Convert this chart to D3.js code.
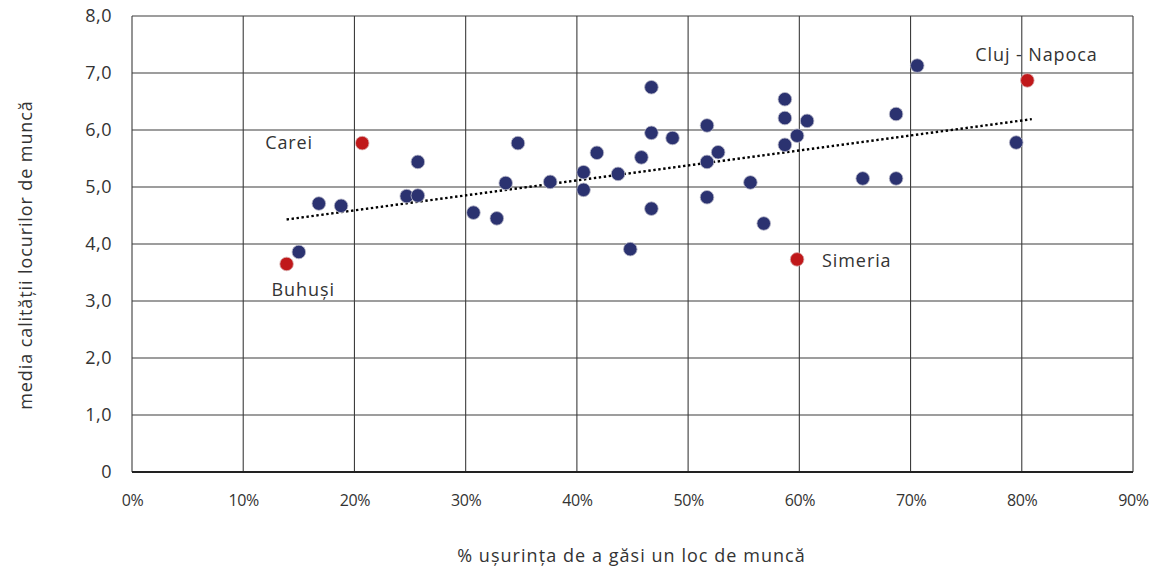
<!DOCTYPE html>
<html>
<head>
<meta charset="utf-8">
<script src="https://cdn.jsdelivr.net/npm/d3@7"></script>
<style>
  html, body { margin: 0; padding: 0; background: #fff; }
  svg { display: block; font-family: "Open Sans", sans-serif; }
</style>
</head>
<body>
<svg id="chart" width="1154" height="569"></svg>
<script>
// ---- data (x = % ușurința de a găsi un loc de muncă, y = media calității locurilor de muncă)
const blueX = [15.0, 16.8, 18.8, 24.7, 25.7, 25.7, 30.7, 32.8, 33.6, 34.7, 37.6, 40.6, 40.6, 41.8, 43.7, 44.8, 45.8, 46.7, 46.7, 46.7, 48.6, 51.7, 51.7, 51.7, 52.7, 55.6, 56.8, 58.7, 58.7, 58.7, 59.8, 60.7, 65.7, 68.7, 68.7, 70.6, 79.5];
const blueY = [3.86, 4.71, 4.67, 4.84, 4.85, 5.44, 4.55, 4.45, 5.07, 5.77, 5.09, 5.26, 4.95, 5.60, 5.23, 3.91, 5.52, 6.75, 5.95, 4.62, 5.86, 6.08, 5.44, 4.82, 5.61, 5.08, 4.36, 6.54, 6.21, 5.74, 5.90, 6.16, 5.15, 6.28, 5.15, 7.13, 5.78];
const namedCities = ["Buhuși", "Carei", "Simeria", "Cluj - Napoca"];
const namedX = [13.9, 20.7, 59.8, 80.5];
const namedY = [3.65, 5.77, 3.73, 6.87];
const trendX = [13.9, 80.9];
const trendY = [4.43, 6.19];
const xTicks = [0, 10, 20, 30, 40, 50, 60, 70, 80, 90];
const yTicks = [0, 1, 2, 3, 4, 5, 6, 7, 8];
const xTitle = "% ușurința de a găsi un loc de muncă";
const yTitle = "media calității locurilor de muncă";

const svg = d3.select("#chart");
const margin = { left: 132, right: 21, top: 16, bottom: 97 };
const W = 1154, H = 569;
const x = d3.scaleLinear().domain([0, 90]).range([margin.left, W - margin.right]);
const y = d3.scaleLinear().domain([0, 8]).range([H - margin.bottom, margin.top]);
const textColor = "#333";
const FONT = "'Open Sans', sans-serif";

// grid
const grid = svg.append("g");
grid.selectAll("line.v").data(xTicks).join("line")
  .attr("x1", d => x(d)).attr("x2", d => x(d))
  .attr("y1", y(8)).attr("y2", y(0))
  .attr("stroke", "#3c3c3c").attr("stroke-width", 1.1);
grid.selectAll("line.h").data(yTicks).join("line")
  .attr("x1", x(0)).attr("x2", x(90))
  .attr("y1", d => y(d)).attr("y2", d => y(d))
  .attr("stroke", "#3c3c3c").attr("stroke-width", 1.1);
svg.append("line").attr("x1", x(0)).attr("x2", x(90)).attr("y1", y(0)).attr("y2", y(0))
  .attr("stroke", "#222").attr("stroke-width", 2);

// axes (labels only)
const fmtY = d => d === 0 ? "0" : d3.format(".1f")(d).replace(".", ",");
const yAxis = svg.append("g").attr("transform", `translate(${x(0)},0)`)
  .call(d3.axisLeft(y).tickValues(yTicks).tickFormat(fmtY).tickSize(0).tickPadding(20));
yAxis.select(".domain").remove();
yAxis.selectAll("text").attr("fill", textColor).style("font-size", "18px").style("font-family", FONT)
  .style("letter-spacing", "0.5px");

const xAxis = svg.append("g").attr("transform", `translate(0,${y(0)})`)
  .call(d3.axisBottom(x).tickValues(xTicks).tickFormat(d => d + "%").tickSize(0).tickPadding(23));
xAxis.select(".domain").remove();
xAxis.selectAll("text").attr("fill", textColor).style("font-size", "16px").style("font-family", FONT)
  .style("letter-spacing", "-0.4px");

// trendline
svg.append("path")
  .datum(d3.zip(trendX, trendY))
  .attr("d", d3.line().x(d => x(d[0])).y(d => y(d[1])))
  .attr("fill", "none").attr("stroke", "#000").attr("stroke-width", 2.4)
  .attr("stroke-dasharray", "2.4,2.6");

// points
const blue = d3.zip(blueX, blueY);
svg.append("g").selectAll("circle").data(blue).join("circle")
  .attr("cx", d => x(d[0])).attr("cy", d => y(d[1])).attr("r", 6.8)
  .attr("fill", "#2b3270").attr("stroke", "#b8b8c8").attr("stroke-width", 0.8);

const named = namedCities.map((n, i) => ({ name: n, x: namedX[i], y: namedY[i] }));
svg.append("g").selectAll("circle").data(named).join("circle")
  .attr("cx", d => x(d.x)).attr("cy", d => y(d.y)).attr("r", 6.8)
  .attr("fill", "#c0181a").attr("stroke", "#d8b0b0").attr("stroke-width", 0.8);

// labels for named cities
const labelPos = {
  "Buhuși": { dx: -15, dy: 32 },
  "Carei": { dx: -97, dy: 6 },
  "Simeria": { dx: 25, dy: 8 },
  "Cluj - Napoca": { dx: -52, dy: -19 }
};
svg.append("g").selectAll("text").data(named).join("text")
  .attr("x", d => x(d.x) + labelPos[d.name].dx)
  .attr("y", d => y(d.y) + labelPos[d.name].dy)
  .attr("fill", textColor).style("font-size", "18px").style("font-family", FONT)
  .style("letter-spacing", "0.9px")
  .text(d => d.name);

// axis titles
svg.append("text").attr("x", (457 + 806) / 2).attr("y", 562)
  .attr("text-anchor", "middle").attr("fill", textColor).style("font-size", "18px").style("font-family", FONT)
  .style("letter-spacing", "1.05px")
  .text(xTitle);
svg.append("text")
  .attr("transform", `translate(32,${(98 + 412) / 2}) rotate(-90)`)
  .attr("text-anchor", "middle").attr("fill", textColor).style("font-size", "18px").style("font-family", FONT)
  .style("letter-spacing", "0.9px")
  .text(yTitle);
</script>
</body>
</html>
